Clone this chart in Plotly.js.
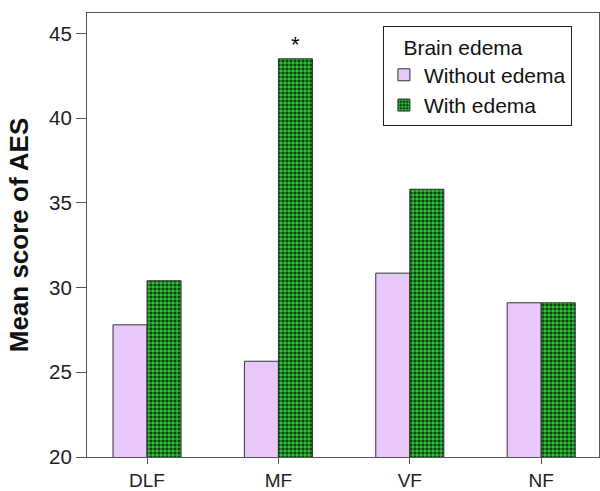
<!DOCTYPE html>
<html>
<head>
<meta charset="utf-8">
<script src="https://cdn.plot.ly/plotly-3.0.1.min.js"></script>
<style>html,body{margin:0;padding:0;background:#fff;}#chart{width:600px;height:491px;}</style>
</head>
<body>
<div id="chart"></div>
<script>
const categories = ["DLF", "MF", "VF", "NF"];
const withoutEdema = [27.8, 25.65, 30.85, 29.1];
const withEdema = [30.4, 43.5, 35.8, 29.1];
const significance = ["", "*", "", ""];
const yTicks = [20, 25, 30, 35, 40, 45];

const font = "Arial, 'Liberation Sans', sans-serif";

const traces = [
  {
    type: "bar", name: "Without edema", x: categories, y: withoutEdema,
    marker: {color: "#e8c8fb", line: {color: "#333", width: 1}}
  },
  {
    type: "bar", name: "With edema", x: categories, y: withEdema,
    marker: {color: "#1f9a2a", line: {color: "#333", width: 1},
      pattern: {shape: ".", fgcolor: "#26c234", bgcolor: "#0b2e0b", size: 4, solidity: 0.65}}
  }
];

const annotations = [];
categories.forEach((c, i) => {
  if (significance[i]) {
    annotations.push({x: c, y: withEdema[i], xref: "x", yref: "y", text: significance[i],
      showarrow: false, xshift: 17, yshift: 0, yanchor: "bottom",
      font: {family: font, size: 22, color: "#000"}});
  }
});

const layout = {
  width: 600, height: 491,
  margin: {l: 87, r: 1, t: 13, b: 34},
  paper_bgcolor: "#fff", plot_bgcolor: "#fff",
  font: {family: font, size: 20, color: "#222"},
  barmode: "group", bargap: 0.482, bargroupgap: 0,
  showlegend: true,
  legend: {
    x: 0.578, y: 0.97, xanchor: "left", yanchor: "top",
    bordercolor: "#222", borderwidth: 1, bgcolor: "#fff",
    title: {text: "&nbsp;&nbsp;&nbsp;Brain edema", side: "top", font: {family: font, size: 21, color: "#111"}},
    font: {family: font, size: 21, color: "#111"},
    tracegroupgap: 0, itemwidth: 30
  },
  xaxis: {
    type: "category", range: [-0.457, 3.44],
    showline: true, mirror: true, linecolor: "#555", linewidth: 1,
    ticks: "outside", ticklen: 6, tickcolor: "#555", tickwidth: 1,
    showgrid: false, zeroline: false,
    tickfont: {family: font, size: 19, color: "#222"}
  },
  yaxis: {
    range: [20, 46.2], tickvals: yTicks, ticktext: yTicks.map(String),
    showline: true, mirror: true, linecolor: "#555", linewidth: 1,
    ticks: "outside", ticklen: 10, tickcolor: "#555", tickwidth: 1,
    showgrid: false, zeroline: false,
    tickfont: {family: font, size: 20.5, color: "#222"},
    title: {text: "<b>Mean score of AES</b>", standoff: 12,
      font: {family: font, size: 26, color: "#111"}}
  },
  annotations: annotations
};

Plotly.newPlot("chart", traces, layout, {displayModeBar: false, staticPlot: true});
</script>
</body>
</html>
